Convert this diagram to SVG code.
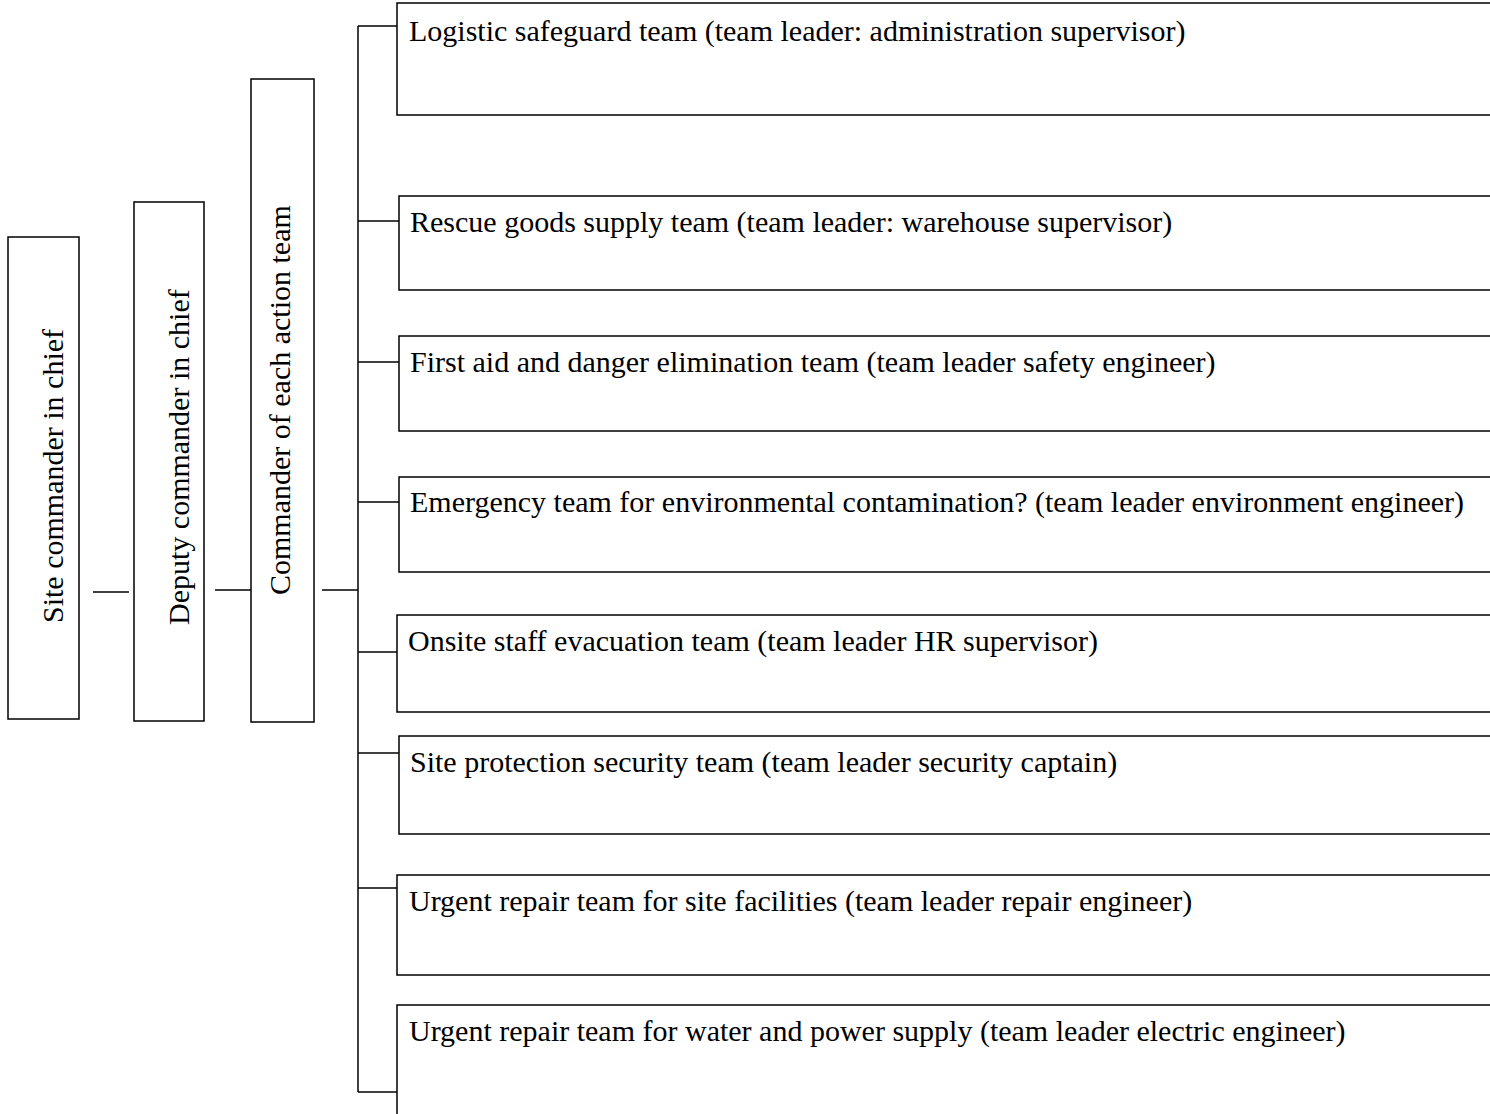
<svg xmlns="http://www.w3.org/2000/svg" width="1490" height="1114" viewBox="0 0 1490 1114">
  <style>
    .box { fill: #ffffff; stroke: #000000; stroke-width: 1.5; }
    .ln { fill: none; stroke: #000000; stroke-width: 1.5; }
    .t { font-family: "Liberation Serif", "Times New Roman", serif; font-size: 30px; fill: #000000; }
  </style>
  <rect x="0" y="0" width="1490" height="1114" fill="#ffffff"/>

  <!-- command chain, labels read bottom to top -->
  <g id="site-commander">
    <rect class="box" x="8" y="237" width="71" height="482"/>
    <text class="t" transform="translate(63,623) rotate(-90)">Site commander in chief</text>
  </g>
  <g id="deputy-commander">
    <rect class="box" x="134" y="202" width="70" height="519"/>
    <text class="t" transform="translate(189,625) rotate(-90)">Deputy commander in chief</text>
  </g>
  <g id="action-commander">
    <rect class="box" x="251" y="79" width="63" height="643"/>
    <text class="t" transform="translate(290,595) rotate(-90)">Commander of each action team</text>
  </g>

  <!-- action teams (boxes run past the right edge) -->
  <g id="team-logistic">
    <rect class="box" x="397" y="3" width="1100" height="112"/>
    <text class="t" x="409" y="41">Logistic safeguard team (team leader: administration supervisor)</text>
  </g>
  <g id="team-rescue-goods">
    <rect class="box" x="399" y="196" width="1100" height="94"/>
    <text class="t" x="410" y="232">Rescue goods supply team (team leader: warehouse supervisor)</text>
  </g>
  <g id="team-first-aid">
    <rect class="box" x="399" y="336" width="1100" height="95"/>
    <text class="t" x="410" y="372">First aid and danger elimination team (team leader safety engineer)</text>
  </g>
  <g id="team-environment">
    <rect class="box" x="399" y="477" width="1100" height="95"/>
    <text class="t" x="410" y="512">Emergency team for environmental contamination? (team leader environment engineer)</text>
  </g>
  <g id="team-evacuation">
    <rect class="box" x="397" y="615" width="1100" height="97"/>
    <text class="t" x="408" y="651">Onsite staff evacuation team (team leader HR supervisor)</text>
  </g>
  <g id="team-security">
    <rect class="box" x="399" y="736" width="1100" height="98"/>
    <text class="t" x="410" y="772">Site protection security team (team leader security captain)</text>
  </g>
  <g id="team-facility-repair">
    <rect class="box" x="397" y="875" width="1100" height="100"/>
    <text class="t" x="409" y="911">Urgent repair team for site facilities (team leader repair engineer)</text>
  </g>
  <g id="team-utility-repair">
    <rect class="box" x="397" y="1005" width="1100" height="130"/>
    <text class="t" x="409" y="1041">Urgent repair team for water and power supply (team leader electric engineer)</text>
  </g>

  <!-- connectors -->
  <g id="connectors">
    <path class="ln" d="M93,592 H129"/>
    <path class="ln" d="M215,590 H251"/>
    <path class="ln" d="M322,590 H358"/>
    <path class="ln" d="M358,26 V1092"/>
    <path class="ln" d="M358,26 H397"/>
    <path class="ln" d="M358,221 H399"/>
    <path class="ln" d="M358,362 H399"/>
    <path class="ln" d="M358,502 H399"/>
    <path class="ln" d="M358,652 H397"/>
    <path class="ln" d="M358,753 H399"/>
    <path class="ln" d="M358,888 H397"/>
    <path class="ln" d="M358,1092 H397"/>
  </g>
</svg>
